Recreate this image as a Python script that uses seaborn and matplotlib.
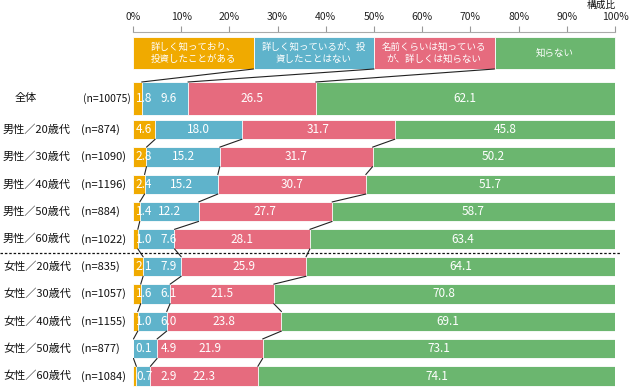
import numpy as np
import pandas as pd
import matplotlib
matplotlib.use("Agg")
import matplotlib.pyplot as plt
import matplotlib.transforms as mtransforms
from matplotlib.patches import Rectangle
import seaborn as sns

# ---------------- data ----------------
categories = ["全体", "男性／20歳代", "男性／30歳代", "男性／40歳代", "男性／50歳代", "男性／60歳代",
              "女性／20歳代", "女性／30歳代", "女性／40歳代", "女性／50歳代", "女性／60歳代"]
n_labels = ["(n=10075)", "(n=874)", "(n=1090)", "(n=1196)", "(n=884)", "(n=1022)",
            "(n=835)", "(n=1057)", "(n=1155)", "(n=877)", "(n=1084)"]
invested = [1.8, 4.6, 2.8, 2.4, 1.4, 1.0, 2.1, 1.6, 1.0, 0.1, 0.7]
know_not_invested = [9.6, 18.0, 15.2, 15.2, 12.2, 7.6, 7.9, 6.1, 6.0, 4.9, 2.9]
name_only = [26.5, 31.7, 31.7, 30.7, 27.7, 28.1, 25.9, 21.5, 23.8, 21.9, 22.3]
unknown = [62.1, 45.8, 50.2, 51.7, 58.7, 63.4, 64.1, 70.8, 69.1, 73.1, 74.1]
series_names = ["詳しく知っており、\n投資したことがある", "詳しく知っているが、投\n資したことはない",
                "名前くらいは知っている\nが、詳しくは知らない", "知らない"]
xticks = [0, 10, 20, 30, 40, 50, 60, 70, 80, 90, 100]
xtick_labels = ["0%", "10%", "20%", "30%", "40%", "50%", "60%", "70%", "80%", "90%", "100%"]
axis_title = "構成比"

# ---------------- style ----------------
colors = ["#F0AA00", "#5FB3CB", "#E66B7E", "#6BB66F"]
W, H = 632, 391
sns.set_theme(style="white")
plt.rcParams["font.family"] = ["Noto Sans CJK JP", "DejaVu Sans"]

fig = plt.figure(figsize=(W / 100, H / 100), dpi=100)
x0, x1, ytop = 133, 615, 32
ax = fig.add_axes([x0 / W, 0, (x1 - x0) / W, (H - ytop) / H])

# row layout (pixel-like data units on y)
bar_h = 19.5
row_y = [98.5] + [129.5 + 27.4 * i for i in range(10)]
total_h = 33

series = [invested, know_not_invested, name_only, unknown]
vals = np.array(series).T  # rows x 4
cum = np.cumsum(vals, axis=1)

df = pd.DataFrame({"category": categories, "ypos": row_y})
for k in range(4):
    df[f"cum{k}"] = cum[:, k]

for k in reversed(range(4)):
    sns.barplot(data=df, x=f"cum{k}", y="ypos", orient="h", native_scale=True,
                color=colors[k], width=bar_h / 27.4, edgecolor="white", linewidth=0.6,
                saturation=1, ax=ax)

# make the overall bar thicker
for p in ax.patches:
    cy = p.get_y() + p.get_height() / 2
    if abs(cy - row_y[0]) < 2:
        p.set_y(row_y[0] - total_h / 2)
        p.set_height(total_h)

ax.set_xlim(0, 100)
ax.set_ylim(H, ytop)
ax.set_xlabel("")
ax.set_ylabel("")
ax.set_yticks([])
ax.xaxis.tick_top()
ax.set_xticks(xticks)
ax.set_xticklabels(xtick_labels)
ax.tick_params(axis="x", direction="out", length=4, width=0.8, color="#999999",
               labelsize=7.5, pad=3, labelcolor="#222222", top=True, bottom=False)
for s in ["left", "right", "bottom"]:
    ax.spines[s].set_visible(False)
ax.spines["top"].set_color("#AAAAAA")
ax.spines["top"].set_linewidth(0.8)

# header (legend) boxes
hy0, hy1 = 37, 69
for k in range(4):
    ax.add_patch(Rectangle((25 * k, hy0), 25, hy1 - hy0, facecolor=colors[k],
                           edgecolor="white", linewidth=0.6, clip_on=False))
    ax.text(25 * k + 12.5, (hy0 + hy1) / 2, series_names[k], ha="center", va="center",
            color="white", fontsize=6.8, linespacing=1.35)

# connectors header -> overall
for k in range(3):
    ax.plot([25 * (k + 1), cum[0, k]], [hy1, row_y[0] - total_h / 2], color="#222222", lw=0.8)

# connectors between rows (male + female groups)
for i in range(1, len(categories) - 1):
    for k in range(3):
        ax.plot([cum[i, k], cum[i + 1, k]],
                [row_y[i] + bar_h / 2, row_y[i + 1] - bar_h / 2], color="#222222", lw=0.8)

# value labels
for i in range(len(categories)):
    start = 0
    for k in range(4):
        v = vals[i, k]
        xc = start + v / 2
        if k == 0:
            xc = max(xc, 2.3)
        elif k == 1:
            xc = max(xc, 7.4)
        ax.text(xc, row_y[i], f"{v:.1f}", ha="center", va="center", color="white",
                fontsize=8.5)
        start += v

# category and n labels
tr = mtransforms.blended_transform_factory(fig.transFigure, ax.transData)
for i, (c, n) in enumerate(zip(categories, n_labels)):
    if i == 0:
        ax.text(15 / W, row_y[i], c, transform=tr, ha="left", va="center", fontsize=8, color="#111111")
        ax.text(131 / W, row_y[i], n, transform=tr, ha="right", va="center", fontsize=7.5, color="#111111")
    else:
        ax.text(3 / W, row_y[i], c, transform=tr, ha="left", va="center", fontsize=8, color="#111111")
        ax.text(81 / W, row_y[i], n, transform=tr, ha="left", va="center", fontsize=8, color="#111111")

# dashed separator between male and female groups
sep_y = (row_y[5] + row_y[6]) / 2
ax.plot([0, 620 / W], [sep_y, sep_y], transform=tr, color="#111111", lw=0.9,
        linestyle=(0, (2, 1.5)), clip_on=False)

fig.text(601 / W, 1 - 5 / H, axis_title, ha="center", va="center", fontsize=7, color="#111111")

fig.savefig("out.png", dpi=100)
